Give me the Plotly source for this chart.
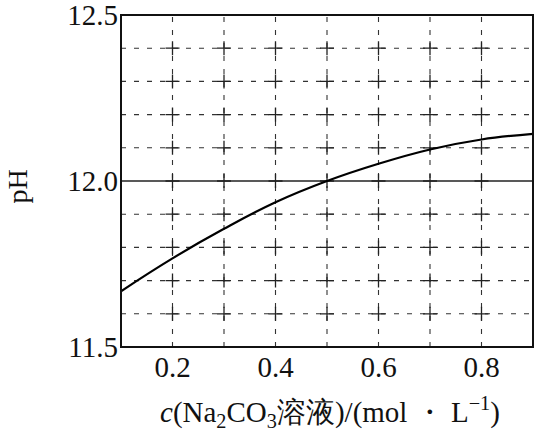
import plotly.graph_objects as go

# Data
conc = [0.1, 0.2, 0.3, 0.4, 0.5, 0.6, 0.7, 0.8, 0.9]
ph = [11.668, 11.767, 11.856, 11.936, 12.0, 12.052, 12.095, 12.125, 12.142]
x_ticks = [0.2, 0.4, 0.6, 0.8]
y_ticks = [11.5, 12.0, 12.5]
x_grid = [0.2, 0.3, 0.4, 0.5, 0.6, 0.7, 0.8]
y_grid = [11.6, 11.7, 11.8, 11.9, 12.0, 12.1, 12.2, 12.3, 12.4]
ref_ph = 12.0
x_title = "<i>c</i>(Na<sub>2</sub>CO<sub>3</sub>溶液)/(mol ・ L<sup>−1</sup>)"
y_title = "pH"

SERIF = "Times New Roman, Liberation Serif, serif"

fig = go.Figure()

# dashed grid lines
for xv in x_grid:
    fig.add_shape(type="line", xref="x", yref="paper", x0=xv, x1=xv, y0=0, y1=1,
                  line=dict(color="#333", width=1.1, dash="5px,8px"), layer="below")
for yv in y_grid:
    if yv == ref_ph:
        continue
    fig.add_shape(type="line", xref="paper", yref="y", x0=0, x1=1, y0=yv, y1=yv,
                  line=dict(color="#333", width=1.1, dash="5px,8px"), layer="below")

# solid reference line at pH 12.0
fig.add_shape(type="line", xref="paper", x0=0, x1=1, yref="y", y0=ref_ph, y1=ref_ph,
              line=dict(color="#222", width=1.6), layer="below")

# crosses at grid intersections
cx = [x for x in x_grid for y in y_grid]
cy = [y for x in x_grid for y in y_grid]
fig.add_trace(go.Scatter(
    x=cx, y=cy, mode="markers",
    marker=dict(symbol="cross-thin", size=10, line=dict(width=1.3, color="#222")),
    hoverinfo="skip", showlegend=False))

fig.add_trace(go.Scatter(
    x=conc, y=ph, mode="lines",
    line=dict(color="black", width=2.2, shape="spline", smoothing=1.2),
    showlegend=False))

# frame
fig.add_shape(type="rect", xref="paper", yref="paper", x0=0, x1=1, y0=0, y1=1,
              line=dict(color="#111", width=2), layer="above")

fig.update_layout(
    width=540, height=442,
    margin=dict(l=121, r=7, t=15, b=95),
    plot_bgcolor="white", paper_bgcolor="white",
    font=dict(family=SERIF, color="#111"),
)

fig.update_xaxes(
    range=[0.1, 0.9], tickvals=x_ticks, ticktext=[f"{v:.1f}" for v in x_ticks],
    tickfont=dict(size=29, family=SERIF, color="#111"), ticks="", ticklabelstandoff=0,
    showline=False, showgrid=False, zeroline=False, automargin=False,
    ticklabeloverflow="allow",
)
fig.update_yaxes(
    range=[11.5, 12.5], tickvals=y_ticks, ticktext=[f"{v:.1f}" for v in y_ticks],
    tickfont=dict(size=29, family=SERIF, color="#111"), ticks="", ticklabelstandoff=2,
    showline=False, showgrid=False, zeroline=False, automargin=False,
    ticklabeloverflow="allow",
)

fig.add_annotation(text=x_title, xref="paper", yref="paper", x=0.507, y=-0.197,
                   xanchor="center", yanchor="middle", showarrow=False,
                   font=dict(size=29, family=SERIF, color="#111"))
fig.add_annotation(text=y_title, xref="paper", yref="paper", x=-0.252, y=0.484,
                   xanchor="center", yanchor="middle", showarrow=False, textangle=-90,
                   borderpad=0, font=dict(size=28, family=SERIF, color="#111"))

fig.write_html("out.html", config={"displayModeBar": False},
               post_script="document.body.style.margin='0';document.body.style.overflow='hidden';")
